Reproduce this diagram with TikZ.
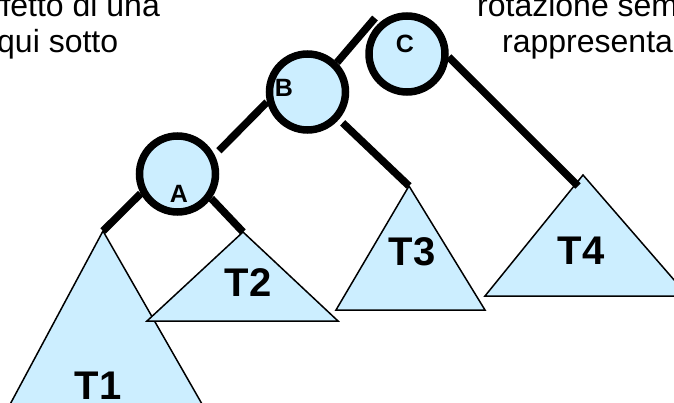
\documentclass[tikz,border=0pt]{standalone}
\usepackage{fontspec}
\setmainfont{Liberation Sans}
\usetikzlibrary{calc}
\definecolor{TreeBlue}{RGB}{204,238,255}

\begin{document}
\begin{tikzpicture}[x=1pt, y=-1pt,
    nodo/.style={circle, draw=black, line width=7.5pt, fill=TreeBlue,
                 minimum size=76pt, inner sep=0pt},
    nlab/.style={font=\fontsize{25}{25}\selectfont\bfseries, inner sep=0pt},
    sotto/.style={draw=black, line width=1.5pt, fill=TreeBlue, line join=miter},
    tlab/.style={font=\fontsize{40}{40}\selectfont\bfseries, inner sep=0pt},
    ramo/.style={line width=7.5pt, black},
    testo/.style={font=\fontsize{32}{38}\selectfont, anchor=base west, inner sep=0pt}
  ]
  \useasboundingbox (0,0) rectangle (674,403);
  \clip (0,0) rectangle (674,403);

  % subtrees
  \coordinate (t1top) at (103,231);
  \coordinate (t2top) at (243,232);
  \coordinate (t3top) at (409,186);
  \coordinate (t4top) at (583,175);
  \draw[sotto] (t1top) -- (-1,425) -- (214,425) -- cycle;
  \draw[sotto] (t2top) -- (147,321) -- (338,321) -- cycle;
  \draw[sotto] (t3top) -- (336,310) -- (485,310) -- cycle;
  \draw[sotto] (t4top) -- (485,296) -- (688,296) -- cycle;
  \node[tlab] (lT1) at (98,386) {T1};
  \node[tlab] (lT2) at (248,283) {T2};
  \node[tlab] (lT3) at (412,252) {T3};
  \node[tlab] (lT4) at (581,251) {T4};

  % nodes A, B, C
  \node[nodo] (A) at (177.5,174) {};
  \node[nodo] (B) at (307.5,92) {};
  \node[nodo] (C) at (407,54) {};
  \node[nlab] (lA) at (179,194) {A};
  \node[nlab] (lB) at (284,88) {B};
  \node[nlab] (lC) at (405,44) {C};

  % branches
  \coordinate (up) at (375,18);
  \coordinate (t4end) at (578,186);
  \draw[ramo] (A.208) -- (t1top);
  \draw[ramo] (A.-36) -- (t2top);
  \draw[ramo, shorten <=6pt] (A.27) -- (B.194);
  \draw[ramo, shorten <=5pt] (B.-41) -- (t3top);
  \draw[ramo] (B.45) -- (up);
  \draw[ramo] (C.-4) -- (t4end);

  % text lines cut by the frame
  \node[testo] (txt1) at (-7,17) {ffetto di una};
  \node[testo] (txt2) at (-3,53) {qui sotto};
  \node[testo] (txt3) at (477,17) {rotazione sem};
  \node[testo] (txt4) at (502,53) {rappresenta};
\end{tikzpicture}
\end{document}
